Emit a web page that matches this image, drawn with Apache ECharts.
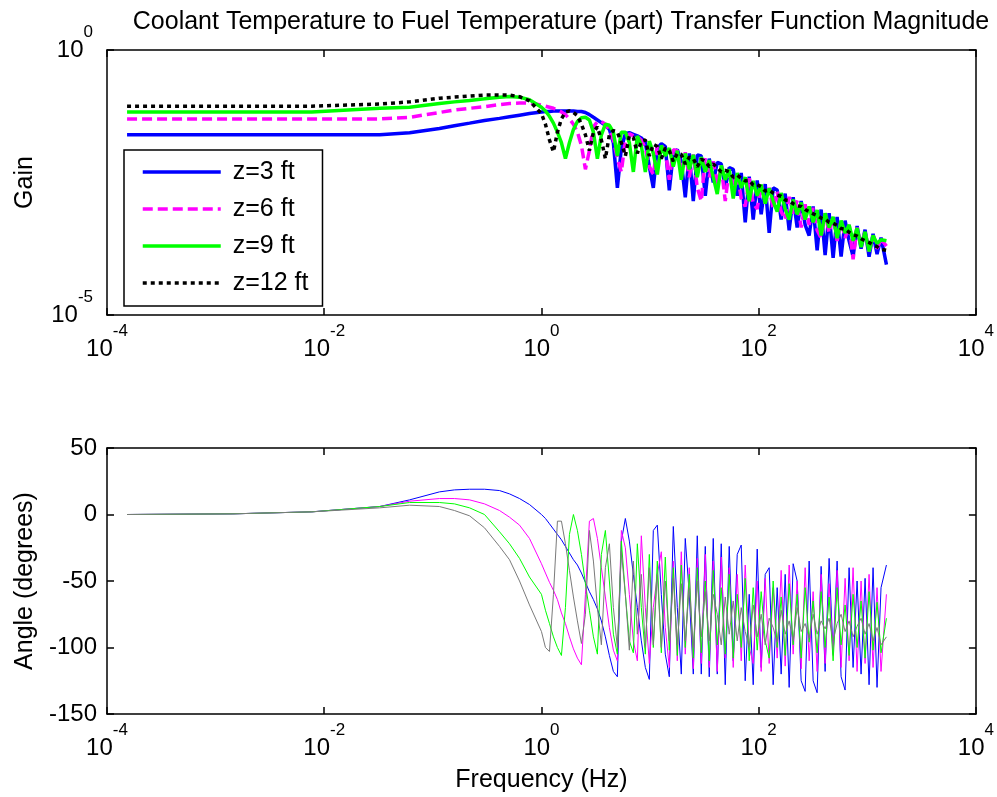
<!DOCTYPE html>
<html>
<head>
<meta charset="utf-8">
<script src="https://cdn.jsdelivr.net/npm/echarts@6/dist/echarts.min.js"></script>
<style>
  html, body { margin: 0; padding: 0; background: #fff; }
  #chart { width: 997px; height: 797px; }
</style>
</head>
<body>
<div id="chart"></div>
<script>
// frequency grid (Hz), shared by all curves
const freq = [
  1.53e-4, 1.44e-3, 7.67e-3, 0.0324, 0.0611, 0.115, 0.158, 0.218, 0.299, 0.411, 0.508, 0.628, 0.776,
  1.000, 1.088, 1.185, 1.289, 1.403, 1.527, 1.662, 1.809, 1.969, 2.143,
  2.333, 2.539, 2.763, 3.008, 3.273, 3.562, 3.877, 4.220, 4.593, 4.999,
  5.440, 5.921, 6.445, 7.015, 7.635, 8.309, 9.044, 9.842, 10.71, 11.66,
  12.69, 13.81, 15.03, 16.36, 17.81, 19.38, 21.09, 22.96, 24.99, 27.20,
  29.60, 32.22, 35.06, 38.16, 41.54, 45.21, 49.21, 53.55, 58.29, 63.44,
  69.05, 75.15, 81.80, 89.02, 96.89, 105.4, 114.8, 124.9, 135.9, 148.0,
  161.0, 175.3, 190.8, 207.6, 226.0, 246.0, 267.7, 291.4, 317.1, 345.2,
  375.7, 408.9, 445.0, 484.4, 527.2, 573.8, 624.5, 679.7, 739.8, 805.2,
  876.4, 953.8, 1038, 1130, 1229, 1338, 1500
];

// gain magnitude
const gainZ3 = [
  2.51e-2, 2.51e-2, 2.51e-2, 2.51e-2, 2.75e-2, 3.31e-2, 3.72e-2, 4.17e-2, 4.68e-2, 5.13e-2, 5.50e-2, 5.89e-2, 6.31e-2,
  6.76e-2, 6.92e-2, 6.92e-2, 7.08e-2, 7.08e-2, 7.08e-2, 7.08e-2, 7.08e-2, 7.08e-2, 6.92e-2,
  6.92e-2, 6.61e-2, 6.03e-2, 5.37e-2, 4.79e-2, 4.27e-2, 3.80e-2, 3.16e-2, 1.78e-2, 2.51e-3,
  1.41e-2, 2.63e-2, 2.75e-2, 2.57e-2, 2.40e-2, 2.19e-2, 1.78e-2, 6.31e-3, 2.51e-3, 1.41e-2,
  1.70e-2, 1.51e-2, 2.24e-3, 1.12e-2, 1.32e-2, 7.94e-3, 1.66e-3, 1.12e-2, 1.41e-3, 1.05e-2,
  1.00e-2, 1.78e-3, 8.91e-3, 3.16e-3, 7.59e-3, 7.08e-3, 2.51e-3, 6.03e-3, 5.62e-3, 1.78e-3,
  4.79e-3, 5.62e-4, 4.07e-3, 6.31e-4, 3.47e-3, 7.94e-4, 2.95e-3, 3.55e-4, 2.51e-3, 2.29e-3,
  6.31e-4, 1.95e-3, 3.98e-4, 1.66e-3, 4.47e-4, 1.41e-3, 5.01e-4, 3.16e-4, 1.12e-3, 1.66e-4,
  9.77e-4, 1.35e-4, 8.32e-4, 1.20e-4, 7.08e-4, 1.26e-4, 6.03e-4, 2.51e-4, 1.26e-4, 4.79e-4,
  1.78e-4, 4.07e-4, 1.26e-4, 3.39e-4, 1.41e-4, 2.88e-4, 8.91e-5
];
const gainZ6 = [
  5.01e-2, 5.01e-2, 5.01e-2, 5.01e-2, 5.37e-2, 6.61e-2, 7.41e-2, 7.94e-2, 8.51e-2, 9.33e-2, 9.77e-2, 1.00e-1, 1.00e-1,
  9.12e-2, 8.71e-2, 8.32e-2, 7.94e-2, 7.41e-2, 6.76e-2, 6.03e-2, 5.01e-2, 3.98e-2, 2.82e-2,
  1.58e-2, 5.62e-3, 1.26e-2, 3.55e-2, 4.47e-2, 4.47e-2, 3.98e-2, 3.16e-2, 2.00e-2, 8.91e-3,
  5.01e-3, 2.00e-2, 2.63e-2, 2.40e-2, 2.29e-2, 2.00e-2, 1.41e-2, 6.31e-3, 4.47e-3, 1.58e-2,
  1.58e-2, 1.26e-2, 3.55e-3, 1.32e-2, 1.26e-2, 5.01e-3, 1.17e-2, 3.98e-3, 1.07e-2, 2.51e-3,
  1.41e-3, 9.33e-3, 3.98e-3, 7.94e-3, 2.82e-3, 6.61e-3, 1.41e-3, 5.62e-3, 2.51e-3, 4.79e-3,
  1.58e-3, 1.12e-3, 3.80e-3, 1.26e-3, 1.00e-3, 2.95e-3, 1.26e-3, 2.51e-3, 1.00e-3, 2.14e-3,
  8.91e-4, 6.31e-4, 1.70e-3, 7.94e-4, 1.45e-3, 4.47e-4, 1.23e-3, 5.01e-4, 1.05e-3, 3.98e-4,
  2.82e-4, 8.32e-4, 3.55e-4, 7.08e-4, 2.51e-4, 6.03e-4, 2.82e-4, 5.13e-4, 1.12e-4, 4.47e-4,
  2.00e-4, 3.80e-4, 1.58e-4, 3.16e-4, 1.78e-4, 2.69e-4, 2.00e-4
];
const gainZ9 = [
  6.76e-2, 6.76e-2, 6.76e-2, 7.94e-2, 8.32e-2, 9.77e-2, 1.05e-1, 1.12e-1, 1.20e-1, 1.29e-1, 1.32e-1, 1.29e-1, 1.15e-1,
  8.32e-2, 7.08e-2, 5.62e-2, 4.17e-2, 2.82e-2, 1.78e-2, 8.91e-3, 1.78e-2, 3.16e-2, 4.47e-2,
  5.25e-2, 5.37e-2, 4.79e-2, 2.82e-2, 8.91e-3, 2.51e-2, 3.98e-2, 3.80e-2, 2.82e-2, 1.00e-2,
  2.82e-2, 2.82e-2, 1.78e-2, 5.01e-3, 2.40e-2, 1.58e-2, 5.01e-3, 1.91e-2, 1.12e-2, 4.47e-3,
  1.58e-2, 1.00e-2, 1.41e-2, 6.31e-3, 1.26e-2, 3.55e-3, 1.12e-2, 5.62e-3, 1.05e-2, 3.98e-3,
  9.55e-3, 5.01e-3, 8.32e-3, 3.98e-3, 1.91e-3, 6.61e-3, 3.55e-3, 5.62e-3, 1.58e-3, 4.79e-3,
  2.51e-3, 3.98e-3, 1.41e-3, 3.39e-3, 1.78e-3, 2.88e-3, 1.26e-3, 2.45e-3, 1.41e-3, 8.91e-4,
  2.00e-3, 1.00e-3, 6.31e-4, 1.51e-3, 7.94e-4, 1.32e-3, 6.31e-4, 1.12e-3, 5.62e-4, 9.55e-4,
  3.16e-4, 8.32e-4, 4.47e-4, 7.08e-4, 2.82e-4, 6.03e-4, 3.55e-4, 5.01e-4, 2.51e-4, 4.37e-4,
  1.91e-4, 3.72e-4, 1.58e-4, 3.16e-4, 2.24e-4, 2.63e-4, 2.51e-4
];
const gainZ12 = [
  8.71e-2, 8.71e-2, 8.71e-2, 9.55e-2, 1.05e-1, 1.23e-1, 1.29e-1, 1.35e-1, 1.41e-1, 1.41e-1, 1.41e-1, 1.32e-1, 1.10e-1,
  6.31e-2, 3.98e-2, 2.00e-2, 1.20e-2, 2.82e-2, 5.01e-2, 6.76e-2, 7.08e-2, 6.61e-2, 5.75e-2,
  3.98e-2, 2.51e-2, 1.26e-2, 2.82e-2, 3.55e-2, 2.00e-2, 8.91e-3, 2.51e-2, 3.02e-2, 2.82e-2,
  1.78e-2, 1.00e-2, 2.40e-2, 2.24e-2, 1.12e-2, 1.91e-2, 2.00e-2, 1.00e-2, 1.66e-2, 1.51e-2,
  8.91e-3, 1.41e-2, 1.26e-2, 7.94e-3, 1.12e-2, 1.07e-2, 7.08e-3, 9.55e-3, 8.91e-3, 6.31e-3,
  8.71e-3, 7.94e-3, 6.31e-3, 7.08e-3, 6.03e-3, 5.01e-3, 5.37e-3, 5.01e-3, 3.98e-3, 4.37e-3,
  3.80e-3, 3.39e-3, 3.47e-3, 2.82e-3, 2.88e-3, 2.63e-3, 2.19e-3, 2.29e-3, 2.00e-3, 1.82e-3,
  1.74e-3, 1.48e-3, 1.45e-3, 1.26e-3, 1.15e-3, 1.12e-3, 9.77e-4, 8.91e-4, 8.13e-4, 7.59e-4,
  6.76e-4, 6.46e-4, 5.62e-4, 5.37e-4, 4.90e-4, 4.27e-4, 4.17e-4, 3.63e-4, 3.31e-4, 3.09e-4,
  2.75e-4, 2.51e-4, 2.34e-4, 2.09e-4, 1.95e-4, 1.74e-4, 1.66e-4
];

// phase angle (degrees)
const angleZ3 = [
  0, 0.5, 2, 6, 11, 17, 18.5, 19, 19, 18, 15.5, 12, 7.5,
  0, -3, -7, -11, -15, -19, -24, -29, -34, -38,
  -44, -51, -58, -64, -71, -80, -92, -106, -118, -122,
  -20, -3, -20, -45, -70, -95, -115, -124, -12, -8,
  -60, -105, -122, -9, -70, -120, -18, -60, -120, -16,
  -120, -24, -122, -18, -120, -22, -128, -24, -110, -30,
  -23, -125, -60, -128, -26, -115, -45, -40, -128, -55,
  -120, -45, -130, -37, -50, -125, -133, -35, -125, -134,
  -39, -118, -33, -105, -35, -122, -132, -40, -115, -50,
  -120, -48, -128, -40, -130, -55, -38
];
const angleZ6 = [
  0, 0.5, 2, 6, 10, 12, 12, 11, 8, 3, -2, -8, -18,
  -37, -44, -51, -57, -64, -74, -82, -92, -101, -108,
  -113, -60, -5, -3, -18, -40, -62, -85, -102, -110,
  -12, -25, -60, -95, -110, -16, -70, -112, -70, -45,
  -28, -85, -115, -35, -110, -28, -105, -40, -116, -33,
  -112, -30, -115, -35, -118, -32, -108, -40, -115, -45,
  -110, -38, -100, -112, -50, -118, -48, -112, -55, -108,
  -42, -114, -38, -105, -50, -116, -40, -110, -58, -118,
  -45, -112, -52, -106, -42, -115, -48, -110, -40, -118,
  -50, -112, -45, -115, -55, -118, -60
];
const angleZ9 = [
  0, 0.5, 2, 6, 9, 9, 8, 5, 0, -13, -22, -33, -47,
  -60, -72, -82, -92, -100, -106, -70, -15, 0, -12,
  -30, -52, -72, -92, -105, -30, -12, -50, -90, -105,
  -20, -60, -95, -104, -22, -70, -105, -30, -100, -35,
  -104, -32, -102, -40, -106, -38, -100, -45, -108, -40,
  -104, -50, -110, -42, -98, -55, -105, -45, -108, -60,
  -100, -48, -110, -55, -102, -58, -95, -108, -50, -100,
  -62, -106, -52, -98, -60, -108, -55, -96, -65, -104,
  -58, -100, -62, -110, -55, -98, -68, -106, -60, -100,
  -65, -108, -58, -102, -66, -104, -78
];
const angleZ12 = [
  0, 0.5, 2, 5, 7, 6, 3, -1, -10, -24, -34, -50, -68,
  -88, -100, -103, -60, -5, -5, -22, -42, -62, -80,
  -97, -75, -12, -35, -70, -98, -40, -22, -70, -100,
  -28, -60, -102, -35, -90, -45, -100, -40, -98, -45,
  -100, -50, -95, -48, -98, -52, -95, -55, -100, -50,
  -92, -58, -95, -60, -75, -98, -62, -90, -65, -95,
  -70, -88, -100, -68, -92, -75, -98, -78, -85, -96,
  -72, -90, -80, -95, -70, -88, -82, -93, -75, -90,
  -80, -86, -78, -95, -82, -75, -88, -80, -92, -84,
  -78, -90, -82, -95, -85, -98, -92
];

const seriesNames = ['z=3 ft', 'z=6 ft', 'z=9 ft', 'z=12 ft'];
const decadeTicks = [1e-4, 1e-2, 1, 1e2, 1e4];
const gainTicks = [1e-5, 1];

const FONT = '"Liberation Sans", Arial, Helvetica, sans-serif';

let chart = echarts.init(document.getElementById('chart'));

function pow10Label(value) {
  const exp = Math.round(Math.log10(value));
  return '{b|10}{e|' + exp + '}';
}
const powRich = {
  b: { fontSize: 24, lineHeight: 52, verticalAlign: 'middle', fontFamily: FONT, color: '#000' },
  e: { fontSize: 17, lineHeight: 18, verticalAlign: 'top', fontFamily: FONT, color: '#000' }
};

const frame = { show: true, onZero: false, lineStyle: { color: '#000', width: 1.5 } };
const tick = { show: true, inside: true, length: 7, lineStyle: { color: '#000', width: 1.5 } };
const nameStyle = { fontSize: 25, fontFamily: FONT, color: '#000' };

function logX(grid, pos, showLabel, name) {
  return {
    type: 'log', logBase: 10, gridIndex: grid, position: pos,
    min: 1e-4, max: 1e4,
    axisLine: frame,
    axisTick: Object.assign({ customValues: decadeTicks }, tick),
    minorTick: { show: false },
    splitLine: { show: false },
    axisLabel: {
      show: showLabel, customValues: decadeTicks, margin: 8,
      formatter: pow10Label, rich: powRich
    },
    name: name || '',
    nameLocation: 'middle', nameGap: 54,
    nameTextStyle: nameStyle
  };
}

const gainStyles = [
  { color: '#0000ff', type: 'solid' },
  { color: '#ff00ff', type: [10, 5] },
  { color: '#00ff00', type: 'solid' },
  { color: '#000000', type: [4, 4] }
];
const angleColors = ['#0000ff', '#ff00ff', '#00ff00', '#7a7a7a'];
const gains = [gainZ3, gainZ6, gainZ9, gainZ12];
const angles = [angleZ3, angleZ6, angleZ9, angleZ12];

const series = [];
gains.forEach((g, i) => {
  series.push({
    name: seriesNames[i], type: 'line', xAxisIndex: 0, yAxisIndex: 0,
    symbol: 'none', showSymbol: false,
    color: gainStyles[i].color,
    lineStyle: { width: 3.5, color: gainStyles[i].color, type: gainStyles[i].type },
    data: freq.map((f, k) => [f, g[k]])
  });
});
angles.forEach((a, i) => {
  series.push({
    name: 'angle ' + seriesNames[i], type: 'line', xAxisIndex: 2, yAxisIndex: 2,
    symbol: 'none', showSymbol: false,
    color: angleColors[i],
    lineStyle: { width: 1, color: angleColors[i] },
    data: freq.map((f, k) => [f, a[k]])
  });
});

chart.setOption({
  animation: false,
  backgroundColor: '#fff',
  title: {
    text: 'Coolant Temperature to Fuel Temperature (part) Transfer Function Magnitude',
    left: 556, top: 5, textAlign: 'center',
    textStyle: { fontSize: 25, fontWeight: 'normal', fontFamily: FONT, color: '#000' }
  },
  legend: {
    data: seriesNames, orient: 'vertical', left: 124, top: 150,
    padding: [8, 14, 9, 17], itemWidth: 78, itemHeight: 14, itemGap: 9,
    borderColor: '#000', borderWidth: 1.5, backgroundColor: '#fff',
    selectedMode: false,
    itemStyle: { opacity: 0, borderWidth: 0 },
    lineStyle: { width: 3.5 },
    textStyle: { fontSize: 25, fontFamily: FONT, color: '#000', lineHeight: 28, padding: [0, 0, 0, 7] }
  },
  grid: [
    { left: 107, top: 50, width: 870, height: 265 },
    { left: 107, top: 448, width: 870, height: 266 }
  ],
  xAxis: [
    logX(0, 'bottom', true),
    logX(0, 'top', false),
    logX(1, 'bottom', true, 'Frequency (Hz)'),
    logX(1, 'top', false)
  ],
  yAxis: [
    {
      type: 'log', logBase: 10, gridIndex: 0, position: 'left',
      min: 1e-5, max: 1,
      axisLine: frame,
      axisTick: Object.assign({ customValues: gainTicks }, tick),
      minorTick: { show: false },
      splitLine: { show: false },
      axisLabel: { customValues: gainTicks, margin: 14, formatter: pow10Label, rich: powRich },
      name: 'Gain', nameLocation: 'middle', nameGap: 69, nameRotate: 90,
      nameTextStyle: nameStyle
    },
    {
      type: 'log', logBase: 10, gridIndex: 0, position: 'right',
      min: 1e-5, max: 1,
      axisLine: frame,
      axisTick: Object.assign({ customValues: gainTicks }, tick),
      minorTick: { show: false },
      splitLine: { show: false },
      axisLabel: { show: false }
    },
    {
      type: 'value', gridIndex: 1, position: 'left',
      min: -150, max: 50, interval: 50,
      axisLine: frame, axisTick: tick,
      splitLine: { show: false },
      axisLabel: { margin: 10, fontSize: 24, fontFamily: FONT, color: '#000' },
      name: 'Angle (degrees)', nameLocation: 'middle', nameGap: 69, nameRotate: 90,
      nameTextStyle: nameStyle
    },
    {
      type: 'value', gridIndex: 1, position: 'right',
      min: -150, max: 50, interval: 50,
      axisLine: frame, axisTick: tick,
      splitLine: { show: false },
      axisLabel: { show: false }
    }
  ],
  series: series
});
</script>
</body>
</html>
